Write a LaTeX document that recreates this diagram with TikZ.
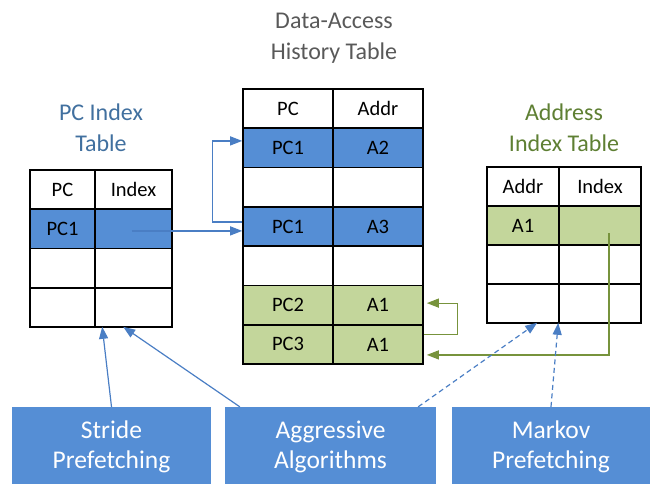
\documentclass[tikz,border=0pt]{standalone}
\usepackage{fontspec}
\setmainfont{Carlito}
\usetikzlibrary{arrows.meta,calc}
\definecolor{cblue}{HTML}{558ED5}
\definecolor{cgreen}{HTML}{C3D69B}
\definecolor{lblue}{HTML}{4A7EC4}
\definecolor{lgreen}{HTML}{77933C}
\definecolor{tblue}{HTML}{41709F}
\definecolor{tgreen}{HTML}{5E7F33}
\definecolor{tgray}{HTML}{595959}
\begin{document}
\begin{tikzpicture}[x=1pt,y=-1pt,
  cell/.style={draw=black, line width=1.6pt, inner sep=0pt, font=\fontsize{20.5}{24}\selectfont},
  bcell/.style={cell, fill=cblue},
  gcell/.style={cell, fill=cgreen},
  title/.style={align=center, inner sep=0pt, font=\fontsize{24}{31}\selectfont},
  algbox/.style={fill=cblue, inner sep=0pt, text=white, align=center, font=\fontsize{25.5}{30}\selectfont},
  barrow/.style={draw=lblue, line width=1.2pt, -{Triangle[length=12pt,width=9pt]}},
  darrow/.style={barrow, dash pattern=on 5pt off 3.5pt},
  garrow/.style={draw=lgreen, line width=1.2pt, -{Triangle[length=12pt,width=9pt]}}
]
\useasboundingbox (0,0) rectangle (650,483);

% titles (anchor base = baseline of the last line)
\node[title, text=tblue, anchor=base] (t1) at (101,151) {PC Index\\Table};
\node[title, text=tgray, anchor=base] (t2) at (334,59) {Data-Access\\History Table};
\node[title, text=tgreen, anchor=base] (t3) at (564,151) {Address\\Index Table};

% PC index table
\tikzset{pa/.style={minimum width=65pt, minimum height=39.25pt}, pb/.style={minimum width=77pt, minimum height=39.25pt}}
\node[cell, pa] (p1a) at (62.5,189.6) {PC};
\node[cell, pb] (p1b) at (133.5,189.6) {Index};
\node[bcell, pa] (p2a) at (62.5,228.9) {PC1};
\node[bcell, pb] (p2b) at (133.5,228.9) {};
\node[cell, pa] (p3a) at (62.5,268.1) {};
\node[cell, pb] (p3b) at (133.5,268.1) {};
\node[cell, pa] (p4a) at (62.5,307.4) {};
\node[cell, pb] (p4b) at (133.5,307.4) {};

% Data-access history table
\tikzset{dd/.style={minimum width=90pt, minimum height=39.3pt}}
\node[cell, dd] (d1a) at (288,108.6) {PC};
\node[cell, dd] (d1b) at (378,108.6) {Addr};
\node[bcell, dd] (d2a) at (288,147.9) {PC1};
\node[bcell, dd] (d2b) at (378,147.9) {A2};
\node[cell, dd] (d3a) at (288,187.2) {};
\node[cell, dd] (d3b) at (378,187.2) {};
\node[bcell, dd] (d4a) at (288,226.5) {PC1};
\node[bcell, dd] (d4b) at (378,226.5) {A3};
\node[cell, dd] (d5a) at (288,265.8) {};
\node[cell, dd] (d5b) at (378,265.8) {};
\node[gcell, dd] (d6a) at (288,305.1) {PC2};
\node[gcell, dd] (d6b) at (378,305.1) {A1};
\node[gcell, dd] (d7a) at (288,344.4) {PC3};
\node[gcell, dd] (d7b) at (378,344.4) {A1};

% Address index table
\tikzset{aa/.style={minimum width=72pt, minimum height=39pt}, ab/.style={minimum width=82pt, minimum height=39pt}}
\node[cell, aa] (a1a) at (523,186.5) {Addr};
\node[cell, ab] (a1b) at (600,186.5) {Index};
\node[gcell, aa] (a2a) at (523,225.5) {A1};
\node[gcell, ab] (a2b) at (600,225.5) {};
\node[cell, aa] (a3a) at (523,264.5) {};
\node[cell, ab] (a3b) at (600,264.5) {};
\node[cell, aa] (a4a) at (523,303.5) {};
\node[cell, ab] (a4b) at (600,303.5) {};

% algorithm boxes (extend below the page edge, as in the reference)
\node[algbox, minimum width=199pt, minimum height=80pt] (stride) at (111.5,447) {Stride\\Prefetching};
\node[algbox, minimum width=211pt, minimum height=80pt] (aggr) at (330.5,447) {Aggressive\\Algorithms};
\node[algbox, minimum width=198pt, minimum height=80pt] (markov) at (551,447) {Markov\\Prefetching};

% connectors
\coordinate (s1) at ([xshift=-2pt,yshift=-2pt]p2b.center);
\draw[barrow] (s1) -- (s1 -| d4a.west);
\draw[barrow] ([yshift=4.5pt]d4a.west) -- ++(-30,0) |- ([yshift=7pt]d2a.west);
\draw[garrow] ([yshift=10pt]d7b.east) -- ++(34,0) |- ([xshift=3pt,yshift=2pt]d6b.east);
\coordinate (g1) at ([xshift=9pt,yshift=-7.5pt]a2b.center);
\draw[garrow] (g1) |- ([xshift=3pt,yshift=-10.5pt]d7b.east);
\draw[barrow] (stride.north) -- ([xshift=8pt,yshift=1pt]p4b.south west);
\draw[barrow] ([xshift=15pt]aggr.north west) -- ([xshift=29pt,yshift=1pt]p4b.south west);
\draw[darrow] ([xshift=-18pt]aggr.north east) -- ([xshift=-21pt,yshift=1pt]a4b.south west);
\draw[darrow] (markov.north) -- ([yshift=1pt]a4b.south west);
\end{tikzpicture}
\end{document}
